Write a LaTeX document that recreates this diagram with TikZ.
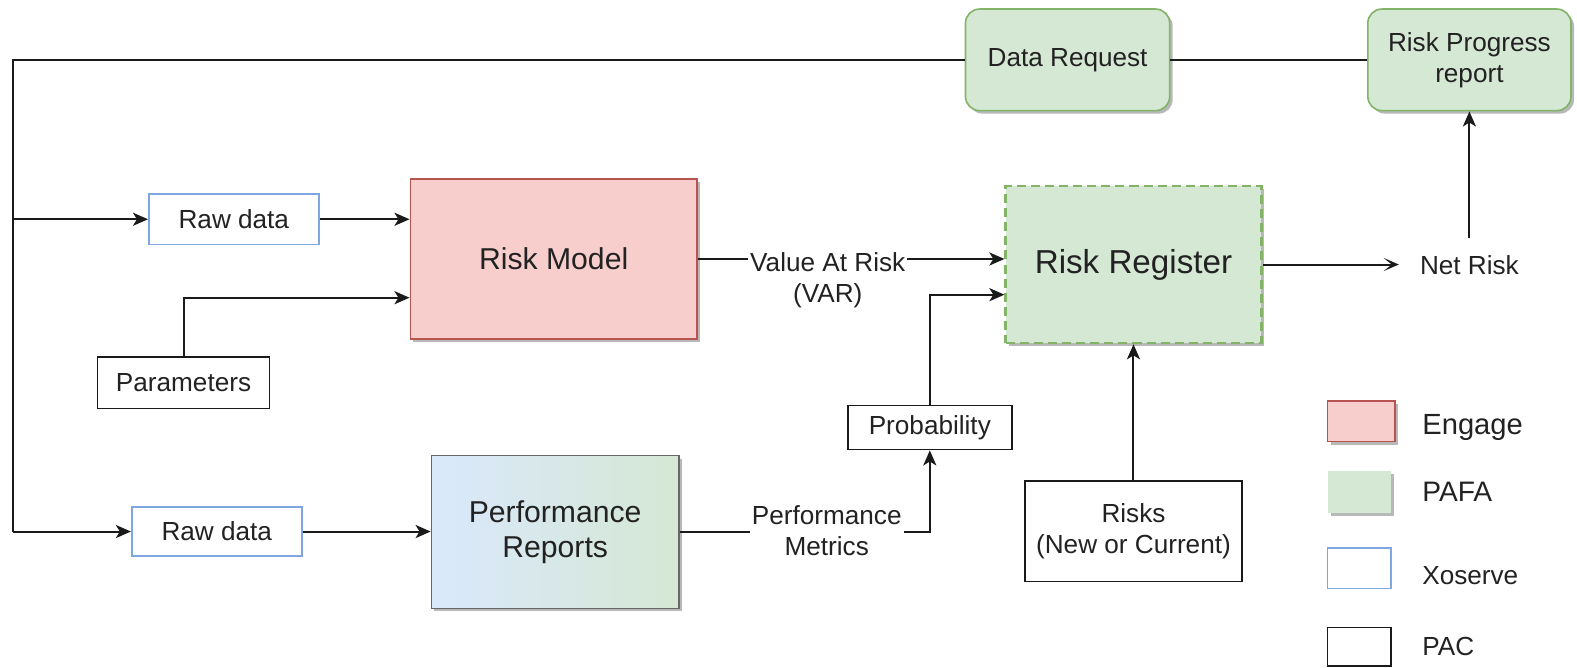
\documentclass[tikz,border=0pt]{standalone}
\usepackage{fontspec}
\setmainfont{Liberation Sans}
\usetikzlibrary{arrows.meta,shadows,calc}
\definecolor{gfill}{HTML}{D5E8D4}
\definecolor{gline}{HTML}{82B366}
\definecolor{rfill}{HTML}{F8CECC}
\definecolor{rline}{HTML}{B85450}
\definecolor{bfill}{HTML}{DAE8FC}
\definecolor{bline}{HTML}{7EA6E0}
\definecolor{txt}{HTML}{222222}
\definecolor{ln}{HTML}{1A1A1A}
\tikzset{
  shd/.style={drop shadow={shadow xshift=3pt,shadow yshift=-3pt,fill=black!28,opacity=1}},
  base/.style={inner sep=0pt,align=center,text=txt,font=\fontsize{26}{31}\selectfont},
  greenbox/.style={base,draw=gline,fill=gfill,line width=1.6pt,rounded corners=14pt,shd},
  bluebox/.style={base,draw=bline,fill=white,line width=1.6pt},
  blackbox/.style={base,draw=ln,fill=white,line width=1.6pt},
  conn/.style={draw=ln,line width=2pt},
  arr/.style={conn,-{Stealth[length=15pt,width=13pt,inset=4pt]}},
  oarr/.style={conn,-{Stealth[length=15pt,width=13pt,inset=8pt]}},
  lbl/.style={base,fill=white,inner xsep=2pt,inner ysep=1pt},
  legtxt/.style={base,anchor=west}
}
\begin{document}
\begin{tikzpicture}[x=1pt,y=-1pt]
\useasboundingbox (0,0) rectangle (1568,664);
% top row
\node[greenbox,minimum width=203pt,minimum height=101pt] (dr) at (1061.5,59.5) {Data Request};
\node[greenbox,minimum width=202pt,minimum height=101pt] (rpr) at (1461,59.5) {Risk Progress\\report};
% left column
\node[bluebox,minimum width=169pt,minimum height=50pt] (raw1) at (232.5,218) {Raw data};
\node[blackbox,minimum width=171pt,minimum height=51pt] (par) at (182.5,380.5) {Parameters};
\node[bluebox,minimum width=169pt,minimum height=49pt] (raw2) at (215.5,528.5) {Raw data};
% main boxes
\node[base,draw=rline,fill=rfill,line width=1.6pt,shd,minimum width=285pt,minimum height=159pt,font=\fontsize{30}{36}\selectfont] (rm) at (550.5,257.5) {Risk Model};
\node[base,draw=black!60,line width=1.6pt,shd,left color=bfill,right color=gfill,minimum width=246pt,minimum height=152pt,font=\fontsize{30}{35}\selectfont] (pr) at (552,529) {Performance\\Reports};
\node[base,draw=gline,fill=gfill,line width=2.6pt,dash pattern=on 9pt off 5pt,shd,minimum width=254pt,minimum height=156pt,font=\fontsize{33}{38}\selectfont] (rr) at (1127,263) {Risk Register};
% right side
\node[base,minimum width=140pt,minimum height=54pt] (net) at (1461,264) {Net Risk};
\node[blackbox,minimum width=163pt,minimum height=44pt] (prob) at (924.5,425) {Probability};
\node[blackbox,minimum width=216pt,minimum height=100pt] (risks) at (1127,528) {Risks\\(New or Current)};
% junction coordinates on the left bus
\coordinate (ctop) at (13,59.5);
\coordinate (cmid) at (13,218);
\coordinate (cbot) at (13,528.5);
% connectors
\draw[conn] (dr.west) -- (ctop) -- (cbot);
\draw[arr] (cmid) -- (raw1.west);
\draw[arr] (cbot) -- (raw2.west);
\draw[conn] (dr.east) -- (rpr.west);
\draw[arr] (raw1.east) -- (raw1.east -| rm.west);
\draw[arr] (par.north) |- ($(rm.west)+(0,38.5)$);
\draw[arr] (rm.east) -- (rm.east -| rr.west);
\draw[arr] (prob.north) |- ($(rr.west)+(0,30)$);
\draw[arr] (risks.north) -- (rr.south);
\draw[oarr] (rr.east) -- (rr.east -| net.west);
\draw[arr] (net.north) -- (rpr.south);
\draw[arr] (raw2.east) -- (raw2.east -| pr.west);
\draw[arr] (pr.east) -| (prob.south);
% edge labels
\node[lbl] (var) at (823,279) {Value At Risk\\(VAR)};
\node[lbl] (pm) at (822,528) {Performance\\Metrics};
% legend
\node[base,draw=rline,fill=rfill,line width=1.6pt,shd,minimum width=67pt,minimum height=40pt] (lg1) at (1353.5,419) {};
\node[base,fill=gfill,shd,minimum width=63pt,minimum height=42pt] (lg2) at (1351.5,489) {};
\node[bluebox,minimum width=63pt,minimum height=40pt] (lg3) at (1351.5,565) {};
\node[blackbox,minimum width=63pt,minimum height=38pt] (lg4) at (1351.5,643) {};
\node[legtxt,font=\fontsize{29}{34}\selectfont] (t1) at (1414,425) {Engage};
\node[legtxt,font=\fontsize{28}{34}\selectfont] (t2) at (1414,489) {PAFA};
\node[legtxt] (t3) at (1414,572) {Xoserve};
\node[legtxt] (t4) at (1414,643) {PAC};
\end{tikzpicture}
\end{document}
